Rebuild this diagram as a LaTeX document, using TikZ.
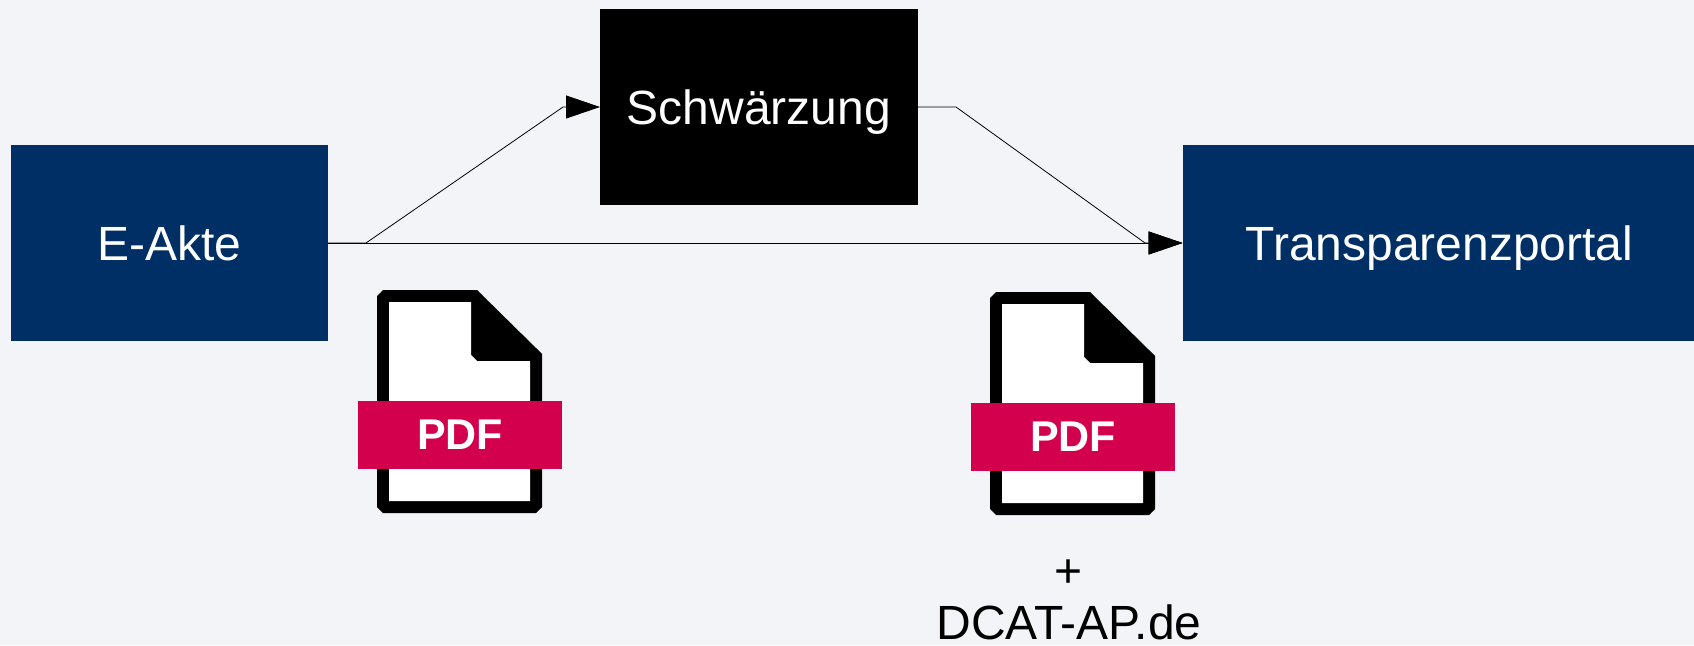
\documentclass[tikz,border=0pt]{standalone}
\usepackage{fontspec}
\setmainfont{Liberation Sans}
\usetikzlibrary{arrows.meta}
\definecolor{bgc}{HTML}{F3F4F8}
\definecolor{navy}{HTML}{002F65}
\definecolor{pdfred}{HTML}{D3004D}
\tikzset{
  x=1pt,y=-1pt,
  box/.style={draw=none,minimum width=#1,minimum height=196pt,outer sep=0pt,inner sep=0pt,text=white,text height=34pt,text depth=0pt,font=\fontsize{48}{48}\selectfont},
  link/.style={draw=black,line width=0.8pt,-{Triangle[length=34pt,width=23pt,fill=black]}},
  note/.style={inner sep=0pt,outer sep=0pt,text=black,text height=34pt,text depth=0pt,font=\fontsize{48}{48}\selectfont},
  pdficon/.pic={
    \fill[black] (6,0) -- (100,0) -- (159,58) -- (165,64) -- (165,217) -- (159,223) -- (6,223) -- (0,217) -- (0,6) -- cycle;
    \fill[white] (12,12) -- (94,12) -- (94,65) -- (100,71) -- (153,71) -- (153,211) -- (12,211) -- cycle;
    \node[fill=pdfred,text=white,inner sep=0pt,outer sep=0pt,minimum width=204pt,minimum height=68pt,
      font=\bfseries\fontsize{43}{43}\selectfont] (label) at (83,145) {PDF};
  }
}
\begin{document}
\begin{tikzpicture}
\useasboundingbox[fill=bgc] (0,0) rectangle (1694,645);
\node[box=317pt,fill=navy] (akte) at (169.5,243) {E-Akte};
\node[box=318pt,fill=black] (schw) at (759,107) {Schwärzung};
\node[box=514pt,fill=navy] (portal) at (1439.5,243) {Transparenzportal};
\coordinate (b1) at (366,243);
\coordinate (b2) at (563,107);
\coordinate (b3) at (956,107);
\coordinate (b4) at (1145,243);
\draw[link] (akte.east) -- (b1) -- (b2) -- (schw.west);
\draw[link] (schw.east) -- (b3) -- (b4) -- (portal.west);
\draw[link] (akte.east) -- (portal.west);
\pic (pa) at (377,290) {pdficon};
\pic (pb) at (990,292) {pdficon};
\node[note] (plus) at (1069,570) {+};
\node[note] (dcat) at (1069,622.5) {DCAT-AP.de};
\end{tikzpicture}
\end{document}
